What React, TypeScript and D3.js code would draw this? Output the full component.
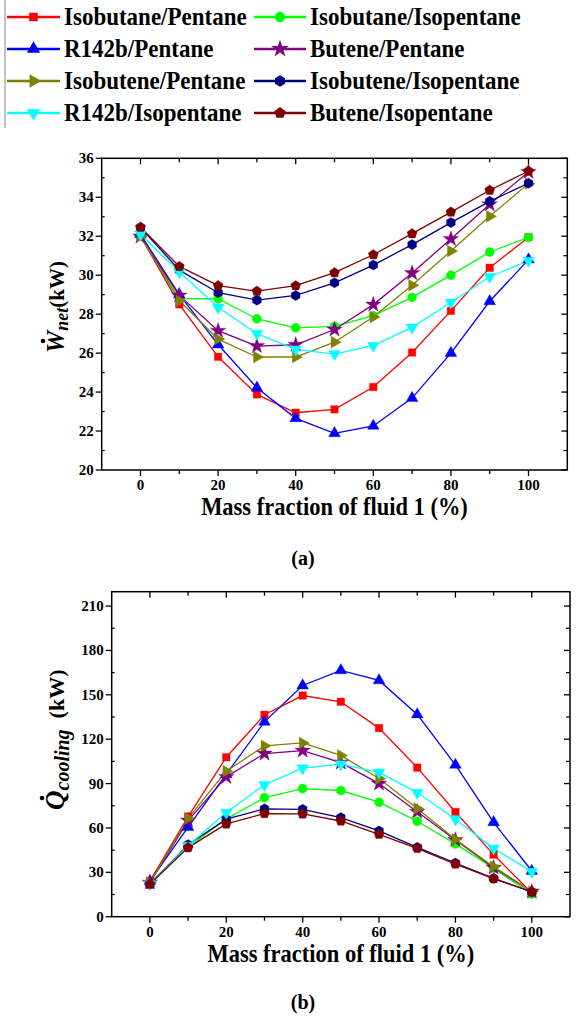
import React from "react";
import * as d3 from "d3";

// ---------- DATA ----------
const fractions = [0, 10, 20, 30, 40, 50, 60, 70, 80, 90, 100];
const seriesNames = [
  "Isobutane/Pentane",
  "Isobutane/Isopentane",
  "R142b/Pentane",
  "Butene/Pentane",
  "Isobutene/Pentane",
  "Isobutene/Isopentane",
  "R142b/Isopentane",
  "Butene/Isopentane",
];
const seriesColors = ["#ff0000", "#00ff00", "#0000ff", "#800080", "#808000", "#000080", "#00ffff", "#800000"];
const seriesMarkers = ["square", "circle", "triUp", "star", "triRight", "hexagon", "triDown", "pentagon"];

// (a) net power output, kW
const wIsobutanePentane = [32.0, 28.5, 25.81, 23.88, 22.94, 23.11, 24.26, 26.03, 28.17, 30.38, 31.95];
const wIsobutaneIsopentane = [32.0, 28.8, 28.79, 27.76, 27.3, 27.37, 27.92, 28.86, 30.0, 31.19, 31.94];
const wR142bPentane = [32.1, 29.0, 26.44, 24.22, 22.65, 21.88, 22.26, 23.69, 26.0, 28.66, 30.8];
const wButenePentane = [31.98, 28.96, 27.15, 26.36, 26.43, 27.21, 28.49, 30.11, 31.86, 33.64, 35.3];
const wIsobutenePentane = [32.0, 28.69, 26.72, 25.8, 25.8, 26.56, 27.85, 29.48, 31.24, 33.02, 34.7];
const wIsobuteneIsopentane = [32.45, 30.26, 29.1, 28.72, 28.96, 29.61, 30.52, 31.57, 32.7, 33.79, 34.72];
const wR142bIsopentane = [32.1, 30.16, 28.35, 27.0, 26.19, 25.95, 26.38, 27.32, 28.6, 29.92, 30.74];
const wButeneIsopentane = [32.46, 30.45, 29.46, 29.18, 29.46, 30.13, 31.05, 32.13, 33.24, 34.36, 35.35];

// (b) cooling capacity, kW
const qIsobutanePentane = [24, 67.7, 107.8, 136.5, 149.5, 145.3, 127.5, 100.8, 70.8, 42, 16];
const qIsobutaneIsopentane = [23, 47, 66, 80.5, 86.6, 85.3, 77.4, 64.5, 49.2, 32.7, 15.3];
const qR142bPentane = [24, 60.5, 96.3, 131.7, 156.3, 166.5, 159.7, 136.7, 102.6, 63.8, 30.9];
const qButenePentane = [23, 65, 94.5, 110.3, 112.3, 104.2, 90, 71, 51.9, 33.2, 17];
const qIsobutenePentane = [23, 66.5, 98.4, 115.5, 117.5, 109, 93.4, 73.1, 52.3, 33.8, 17];
const qIsobuteneIsopentane = [22, 48.7, 65.9, 72.9, 72.6, 67, 58, 46.9, 36.3, 25.9, 16.7];
const qR142bIsopentane = [22, 48, 70.4, 89.1, 100.4, 103.1, 97.5, 83.9, 65.9, 46.2, 30.5];
const qButeneIsopentane = [22, 46.7, 62.7, 69.7, 69.5, 64.7, 55.7, 46.2, 35.6, 25.7, 16.9];

const xTickLabels = [0, 20, 40, 60, 80, 100];
const wTickLabels = [20, 22, 24, 26, 28, 30, 32, 34, 36];
const qTickLabels = [0, 30, 60, 90, 120, 150, 180, 210];

const wSeries = [wIsobutanePentane, wIsobutaneIsopentane, wR142bPentane, wButenePentane, wIsobutenePentane, wIsobuteneIsopentane, wR142bIsopentane, wButeneIsopentane];
const qSeries = [qIsobutanePentane, qIsobutaneIsopentane, qR142bPentane, qButenePentane, qIsobutenePentane, qIsobuteneIsopentane, qR142bIsopentane, qButeneIsopentane];

// ---------- SYMBOLS ----------
const polygon = (n: number, rot: number) => ({
  draw(ctx: any, size: number) {
    const r = Math.sqrt(size / (0.5 * n * Math.sin((2 * Math.PI) / n)));
    for (let i = 0; i < n; i++) {
      const a = rot + (i * 2 * Math.PI) / n;
      const x = r * Math.cos(a), y = r * Math.sin(a);
      if (i === 0) ctx.moveTo(x, y); else ctx.lineTo(x, y);
    }
    ctx.closePath();
  },
});
const symbolTypes: Record<string, any> = {
  square: d3.symbolSquare,
  circle: d3.symbolCircle,
  triUp: polygon(3, -Math.PI / 2),
  triDown: polygon(3, Math.PI / 2),
  triRight: polygon(3, 0),
  star: d3.symbolStar,
  hexagon: polygon(6, Math.PI / 6),
  pentagon: polygon(5, -Math.PI / 2),
};
const symbolSizes: Record<string, number> = {
  square: 56, circle: 64, triUp: 60, triDown: 60, triRight: 60, star: 75, hexagon: 66, pentagon: 66,
};
const symPath = (m: string, k = 1) => d3.symbol().type(symbolTypes[m]).size(symbolSizes[m] * k)() as string;

const FONT = "Liberation Serif";

type PanelProps = {
  left: number; right: number; top: number; bottom: number;
  yDomain: [number, number]; yMajor: number[]; yMinorStep: number;
  data: number[][];
};

function Panel({ left, right, top, bottom, yDomain, yMajor, yMinorStep, data }: PanelProps) {
  const x = d3.scaleLinear().domain([-10, 110]).range([left, right]);
  const y = d3.scaleLinear().domain(yDomain).range([bottom, top]);
  const yMinor = d3.range(yDomain[0], yDomain[1] + 1e-6, yMinorStep).filter((v) => !yMajor.includes(v));
  const line = d3.line<number>().x((_, i) => x(fractions[i])).y((d) => y(d));
  const cx = (left + right) / 2;
  return (
    <g>
      {data.map((vals, si) => (
        <path key={si} d={line(vals) as string} fill="none" stroke={seriesColors[si]} strokeWidth={1.3} />
      ))}
      {data.map((vals, si) => (
        <g key={"m" + si}>
          {vals.map((v, i) => (
            <path key={i} d={symPath(seriesMarkers[si])} transform={`translate(${x(fractions[i])},${y(v)})`} fill={seriesColors[si]} stroke={seriesColors[si]} strokeWidth={0.6} strokeOpacity={0.6} />
          ))}
        </g>
      ))}
      <rect x={left} y={top} width={right - left} height={bottom - top} fill="none" stroke="#000" strokeWidth={1.5} />
      {fractions.map((t) => (
        <g key={"xt" + t}>
          <line x1={x(t)} x2={x(t)} y1={bottom} y2={bottom + (t % 20 === 0 ? 6 : 4)} stroke="#000" strokeWidth={1.3} />
          <line x1={x(t)} x2={x(t)} y1={top} y2={top + (t % 20 === 0 ? 6 : 4)} stroke="#000" strokeWidth={1.3} />
        </g>
      ))}
      {xTickLabels.map((t) => (
        <text key={"xl" + t} x={x(t)} y={bottom + 20} textAnchor="middle" fontFamily={FONT} fontWeight="bold" fontSize={15}>{t}</text>
      ))}
      {yMajor.map((t) => (
        <g key={"ym" + t}>
          <line x1={left - 6} x2={left} y1={y(t)} y2={y(t)} stroke="#000" strokeWidth={1.3} />
          <line x1={right - 6} x2={right} y1={y(t)} y2={y(t)} stroke="#000" strokeWidth={1.3} />
          <text x={left - 8} y={y(t) + 5} textAnchor="end" fontFamily={FONT} fontWeight="bold" fontSize={15}>{t}</text>
        </g>
      ))}
      {yMinor.map((t) => (
        <g key={"yn" + t}>
          <line x1={left} x2={left + 3} y1={y(t)} y2={y(t)} stroke="#000" strokeWidth={1.2} />
          <line x1={right - 4} x2={right} y1={y(t)} y2={y(t)} stroke="#000" strokeWidth={1.2} />
        </g>
      ))}
      <g transform={`translate(${cx},${bottom + 45}) scale(1,1.1)`}>
        <text x={0} y={0} textAnchor="middle" fontFamily={FONT} fontWeight="bold" fontSize={22.5}>Mass fraction of fluid 1 (%)</text>
      </g>
    </g>
  );
}

function Legend() {
  const rowY = (r: number) => 17 + r * 32;
  const cols = [{ l1: 7, l2: 60, tx: 64 }, { l1: 254, l2: 306, tx: 310 }];
  return (
    <g>
      <line x1={5} x2={5} y1={0} y2={128} stroke="#999" strokeWidth={1.2} />
      {seriesNames.map((name, i) => {
        const r = Math.floor(i / 2), c = cols[i % 2];
        const yy = rowY(r);
        return (
          <g key={name}>
            <line x1={c.l1} x2={c.l2} y1={yy} y2={yy} stroke={seriesColors[i]} strokeWidth={2.5} />
            <path d={symPath(seriesMarkers[i], 1.3)} transform={`translate(${(c.l1 + c.l2) / 2},${yy})`} fill={seriesColors[i]} />
            <g transform={`translate(${c.tx},${yy + 8}) scale(1,1.12)`}>
              <text x={0} y={0} fontFamily={FONT} fontWeight="bold" fontSize={23}>{name}</text>
            </g>
          </g>
        );
      })}
    </g>
  );
}

export default function App() {
  return (
    <svg width={582} height={1019} style={{ position: "absolute", left: 0, top: 0, background: "#fff" }}>
      <rect x={0} y={0} width={582} height={1019} fill="#fff" />
      <Legend />
      <Panel left={101.7} right={567.3} top={158.3} bottom={470} yDomain={[20, 36]} yMajor={wTickLabels} yMinorStep={1} data={wSeries} />
      <Panel left={111.7} right={570} top={591.7} bottom={916.7} yDomain={[0, 219.7]} yMajor={qTickLabels} yMinorStep={15} data={qSeries} />
      <g transform="translate(64,353) rotate(-90)">
        <text x={0} y={0} fontFamily={FONT} fontWeight="bold" fontSize={25}>
          <tspan fontStyle="italic">W</tspan>
          <tspan fontStyle="italic" fontSize={18} dy={4}>net</tspan>
          <tspan fontSize={21} dy={-4}>(kW)</tspan>
        </text>
        <circle cx={12} cy={-21} r={2.3} fill="#000" />
      </g>
      <g transform="translate(64,810) rotate(-90)">
        <text x={0} y={0} fontFamily={FONT} fontWeight="bold" fontSize={27}>
          <tspan fontStyle="italic">Q</tspan>
          <tspan fontStyle="italic" fontSize={20} dy={5}>cooling</tspan>
          <tspan fontSize={22} dy={-5}>{"\u00a0 (kW)"}</tspan>
        </text>
        <circle cx={12} cy={-22} r={2.3} fill="#000" />
      </g>
      <text x={303} y={565} textAnchor="middle" fontFamily={FONT} fontWeight="bold" fontSize={20}>(a)</text>
      <text x={303} y={1009} textAnchor="middle" fontFamily={FONT} fontWeight="bold" fontSize={20}>(b)</text>
    </svg>
  );
}
